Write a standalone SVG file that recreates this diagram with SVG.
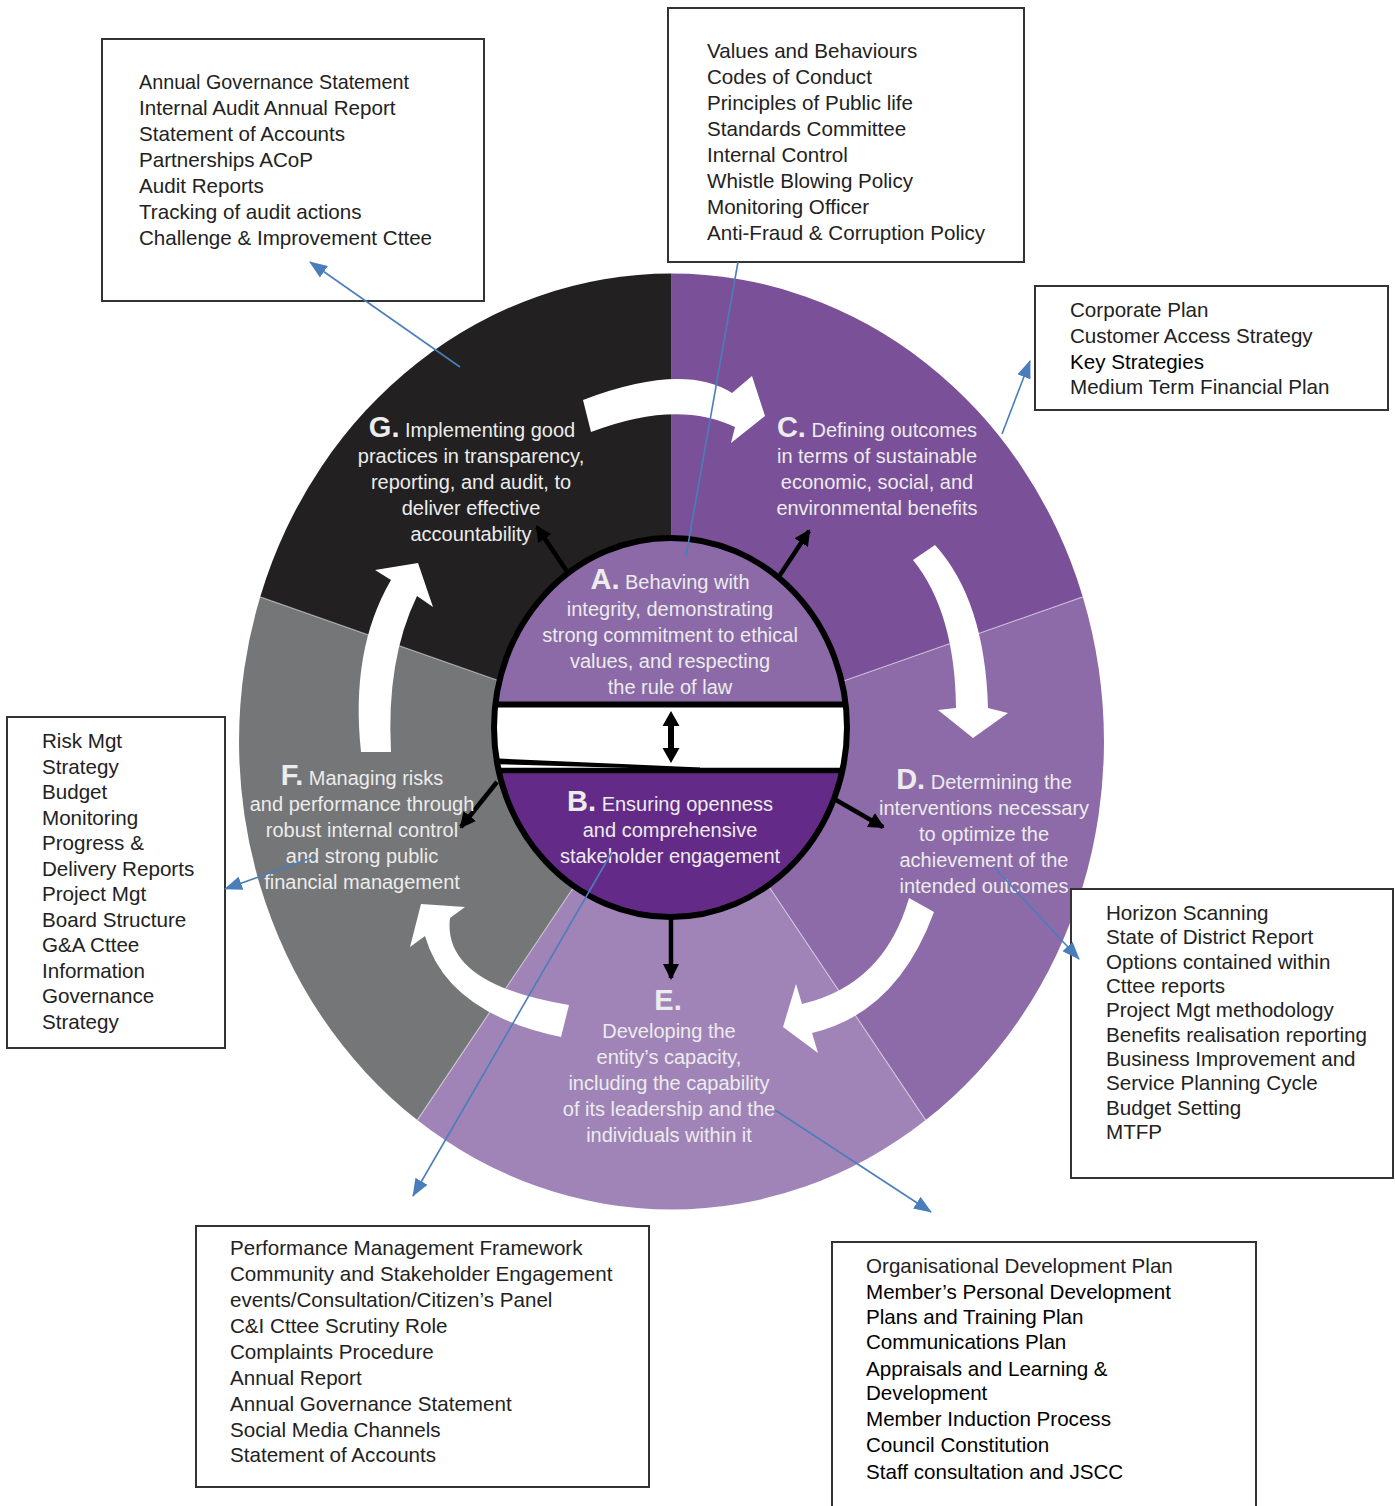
<svg xmlns="http://www.w3.org/2000/svg" width="1395" height="1506" viewBox="0 0 1395 1506">
<style>
.box{fill:#fff;stroke:#333;stroke-width:2}
.bt{font-family:"Liberation Sans",Arial,sans-serif;font-size:20.6px;fill:#222}
.st{font-family:"Liberation Sans",Arial,sans-serif;font-size:20px;fill:#ececec;text-anchor:middle}
.lt{font-size:29px;font-weight:bold}
.conn{stroke:#4A7EBB;stroke-width:1.6;fill:none}
.blk{stroke:#000;stroke-width:4.5;fill:none}
.wa{fill:#fff}
.sep{stroke:#fff;stroke-opacity:0.45;stroke-width:1.2}
</style>
<defs>
<marker id="bh" markerUnits="userSpaceOnUse" markerWidth="18" markerHeight="14" refX="17" refY="7" orient="auto">
<path d="M0,0 L18,7 L0,14 z" fill="#4A7EBB"/>
</marker>
<marker id="kh" markerUnits="userSpaceOnUse" markerWidth="16" markerHeight="16" refX="14" refY="8" orient="auto">
<path d="M0,0 L16,8 L0,16 z" fill="#000"/>
</marker>
<clipPath id="inner"><ellipse cx="670.5" cy="727.5" rx="176.5" ry="189.5"/></clipPath>
</defs>
<rect width="1395" height="1506" fill="#fff"/>

<g id="ring">
<path id="secC" d="M671.5,741.5 L671.5,273.5 A432.5,468 0 0 1 1082.8,596.9 Z" fill="#7A5098"/>
<path id="secD" d="M671.5,741.5 L1082.8,596.9 A432.5,468 0 0 1 925.7,1120.1 Z" fill="#8C6BA8"/>
<path id="secE" d="M671.5,741.5 L925.7,1120.1 A432.5,468 0 0 1 417.3,1120.1 Z" fill="#A084B8"/>
<path id="secF" d="M671.5,741.5 L417.3,1120.1 A432.5,468 0 0 1 260.2,596.9 Z" fill="#757677"/>
<path id="secG" d="M671.5,741.5 L260.2,596.9 A432.5,468 0 0 1 671.5,273.5 Z" fill="#222021"/>
<line class="sep" x1="671.5" y1="741.5" x2="260.2" y2="596.9"/>
<line class="sep" x1="671.5" y1="741.5" x2="1082.8" y2="596.9"/>
<line class="sep" x1="671.5" y1="741.5" x2="925.7" y2="1120.1"/>
<line class="sep" x1="671.5" y1="741.5" x2="417.3" y2="1120.1"/>
</g>

<g id="cycle-arrows">
<path class="wa" d="M583,400 Q683,362 732,393 L752,376 L765,416 L731,443 L735,427 Q677,399 591,432 Z"/>
<path class="wa" d="M913,560 L935,545 Q985,600 988,708 L1008,713 L973,738 L938,710 L956,708 Q955,612 913,560 Z"/>
<path class="wa" d="M934,912 Q897,1013 812,1033 L818,1053 L783,1027 L796,984 L802,1004 Q884,985 909,898 Z"/>
<path class="wa" d="M569,1005 Q442,984 450,918 L465,907 L421,904 L410,947 L425,936 Q447,1013 561,1037 Z"/>
<path class="wa" d="M361,752 Q350,650 391,580 L375,570 L418,563 L433,607 L417,596 Q386,660 391,752 Z"/>
</g>

<g id="center-disk">
<g clip-path="url(#inner)">
<rect x="488" y="530" width="366" height="176" fill="#8B6AA7"/>
<rect x="488" y="704" width="366" height="70" fill="#fff"/>
<rect x="488" y="770" width="366" height="160" fill="#642A87"/>
<line x1="488" y1="704.5" x2="854" y2="704.5" stroke="#000" stroke-width="6"/>
<path d="M488,758 L700,767.5 L700,770 L488,764 Z" fill="#000"/>
<line x1="488" y1="770.5" x2="854" y2="770.5" stroke="#000" stroke-width="5.5"/>
</g>
<ellipse cx="670.5" cy="727.5" rx="176.5" ry="189.5" fill="none" stroke="#000" stroke-width="6"/>
<path d="M671,711 L679.5,726 L674,726 L674,748 L679.5,748 L671,763 L662.5,748 L668,748 L668,726 L662.5,726 Z" fill="#000"/>
</g>

<g id="radial-arrows">
<line class="blk" x1="568" y1="573" x2="537" y2="527" marker-end="url(#kh)"/>
<line class="blk" x1="778" y1="578" x2="809" y2="531" marker-end="url(#kh)"/>
<line class="blk" x1="497" y1="782" x2="461" y2="827" marker-end="url(#kh)"/>
<line class="blk" x1="836" y1="800" x2="883" y2="827" marker-end="url(#kh)"/>
<line class="blk" x1="671" y1="918" x2="671" y2="978" marker-end="url(#kh)"/>
</g>

<g id="nodeA"><text class="st"><tspan x="670" y="589"><tspan class="lt">A.</tspan> Behaving with</tspan><tspan x="670" y="616">integrity, demonstrating</tspan><tspan x="670" y="642">strong commitment to ethical</tspan><tspan x="670" y="668">values, and respecting</tspan><tspan x="670" y="694">the rule of law</tspan></text></g>
<g id="nodeB"><text class="st"><tspan x="670" y="811"><tspan class="lt">B.</tspan> Ensuring openness</tspan><tspan x="670" y="837">and comprehensive</tspan><tspan x="670" y="863">stakeholder engagement</tspan></text></g>
<g id="nodeC"><text class="st"><tspan x="877" y="437"><tspan class="lt">C.</tspan> Defining outcomes</tspan><tspan x="877" y="463">in terms of sustainable</tspan><tspan x="877" y="489">economic, social, and</tspan><tspan x="877" y="515">environmental benefits</tspan></text></g>
<g id="nodeD"><text class="st"><tspan x="984" y="789"><tspan class="lt">D.</tspan> Determining the</tspan><tspan x="984" y="815">interventions necessary</tspan><tspan x="984" y="841">to optimize the</tspan><tspan x="984" y="867">achievement of the</tspan><tspan x="984" y="893">intended outcomes</tspan></text></g>
<g id="nodeE"><text class="st"><tspan x="668" y="1010" class="lt">E.</tspan><tspan x="669" y="1038">Developing the</tspan><tspan x="669" y="1064">entity’s capacity,</tspan><tspan x="669" y="1090">including the capability</tspan><tspan x="669" y="1116">of its leadership and the</tspan><tspan x="669" y="1142">individuals within it</tspan></text></g>
<g id="nodeF"><text class="st"><tspan x="362" y="785"><tspan class="lt">F.</tspan> Managing risks</tspan><tspan x="362" y="811">and performance through</tspan><tspan x="362" y="837">robust internal control</tspan><tspan x="362" y="863">and strong public</tspan><tspan x="362" y="889">financial management</tspan></text></g>
<g id="nodeG"><text class="st"><tspan x="472" y="437"><tspan class="lt">G.</tspan> Implementing good</tspan><tspan x="471" y="463">practices in transparency,</tspan><tspan x="471" y="489">reporting, and audit, to</tspan><tspan x="471" y="515">deliver effective</tspan><tspan x="471" y="541">accountability</tspan></text></g>

<g id="box-accountability">
<rect class="box" x="102" y="39" width="382" height="262"/>
<text class="bt"><tspan x="139" y="89" textLength="270" lengthAdjust="spacingAndGlyphs">Annual Governance Statement</tspan><tspan x="139" y="115">Internal Audit Annual Report</tspan><tspan x="139" y="141">Statement of Accounts</tspan><tspan x="139" y="167">Partnerships ACoP</tspan><tspan x="139" y="193">Audit Reports</tspan><tspan x="139" y="219">Tracking of audit actions</tspan><tspan x="139" y="245">Challenge &amp; Improvement Cttee</tspan></text>
</g>
<g id="box-integrity">
<rect class="box" x="668" y="8" width="356" height="254"/>
<text class="bt"><tspan x="707" y="58">Values and Behaviours</tspan><tspan x="707" y="84">Codes of Conduct</tspan><tspan x="707" y="110">Principles of Public life</tspan><tspan x="707" y="136">Standards Committee</tspan><tspan x="707" y="162">Internal Control</tspan><tspan x="707" y="188">Whistle Blowing Policy</tspan><tspan x="707" y="214">Monitoring Officer</tspan><tspan x="707" y="240">Anti-Fraud &amp; Corruption Policy</tspan></text>
</g>
<g id="box-outcomes">
<rect class="box" x="1035" y="286" width="353" height="124"/>
<text class="bt"><tspan x="1070" y="317">Corporate Plan</tspan><tspan x="1070" y="343">Customer Access Strategy</tspan><tspan x="1070" y="369" fill="#000">Key Strategies</tspan><tspan x="1070" y="394">Medium Term Financial Plan</tspan></text>
</g>
<g id="box-risk">
<rect class="box" x="7" y="717" width="218" height="331"/>
<text class="bt"><tspan x="42" y="748">Risk Mgt</tspan><tspan x="42" y="773.5">Strategy</tspan><tspan x="42" y="799">Budget</tspan><tspan x="42" y="824.5">Monitoring</tspan><tspan x="42" y="850">Progress &amp;</tspan><tspan x="42" y="875.5">Delivery Reports</tspan><tspan x="42" y="901">Project Mgt</tspan><tspan x="42" y="926.5">Board Structure</tspan><tspan x="42" y="952">G&amp;A Cttee</tspan><tspan x="42" y="977.5">Information</tspan><tspan x="42" y="1003">Governance</tspan><tspan x="42" y="1028.5">Strategy</tspan></text>
</g>
<g id="box-interventions">
<rect class="box" x="1071" y="889" width="322" height="289"/>
<text class="bt"><tspan x="1106" y="920">Horizon Scanning</tspan><tspan x="1106" y="944.3">State of District Report</tspan><tspan x="1106" y="968.6">Options contained within</tspan><tspan x="1106" y="993">Cttee reports</tspan><tspan x="1106" y="1017.3">Project Mgt methodology</tspan><tspan x="1106" y="1041.6">Benefits realisation reporting</tspan><tspan x="1106" y="1066">Business Improvement and</tspan><tspan x="1106" y="1090.3">Service Planning Cycle</tspan><tspan x="1106" y="1114.6">Budget Setting</tspan><tspan x="1106" y="1139">MTFP</tspan></text>
</g>
<g id="box-openness">
<rect class="box" x="196" y="1226" width="453" height="261"/>
<text class="bt"><tspan x="230" y="1255">Performance Management Framework</tspan><tspan x="230" y="1281">Community and Stakeholder Engagement</tspan><tspan x="230" y="1307">events/Consultation/Citizen’s Panel</tspan><tspan x="230" y="1333">C&amp;I Cttee Scrutiny Role</tspan><tspan x="230" y="1359">Complaints Procedure</tspan><tspan x="230" y="1384.5">Annual Report</tspan><tspan x="230" y="1410.5">Annual Governance Statement</tspan><tspan x="230" y="1436.5">Social Media Channels</tspan><tspan x="230" y="1462">Statement of Accounts</tspan></text>
</g>
<g id="box-capacity">
<path d="M832,1510 L832,1242 L1256,1242 L1256,1510" fill="#fff" stroke="#333" stroke-width="2"/>
<text class="bt"><tspan x="866" y="1273">Organisational Development Plan</tspan><tspan x="866" y="1299" fill="#000">Member’s Personal Development</tspan><tspan x="866" y="1324" fill="#000">Plans and Training Plan</tspan><tspan x="866" y="1349" fill="#000">Communications Plan</tspan><tspan x="866" y="1376" fill="#000">Appraisals and Learning &amp;</tspan><tspan x="866" y="1400" fill="#000">Development</tspan><tspan x="866" y="1426" fill="#000">Member Induction Process</tspan><tspan x="866" y="1452" fill="#000">Council Constitution</tspan><tspan x="866" y="1479" fill="#000">Staff consultation and JSCC</tspan></text>
</g>

<g id="connectors">
<line class="conn" x1="460" y1="367" x2="310" y2="262" marker-end="url(#bh)"/>
<line class="conn" x1="686" y1="556" x2="738" y2="262"/>
<line class="conn" x1="1002" y1="434" x2="1030" y2="361" marker-end="url(#bh)"/>
<line class="conn" x1="994" y1="867" x2="1079" y2="959" marker-end="url(#bh)"/>
<line class="conn" x1="612" y1="852" x2="413" y2="1196" marker-end="url(#bh)"/>
<line class="conn" x1="775" y1="1110" x2="931" y2="1212" marker-end="url(#bh)"/>
<line class="conn" x1="314" y1="857" x2="225" y2="889" marker-end="url(#bh)"/>
</g>
</svg>
